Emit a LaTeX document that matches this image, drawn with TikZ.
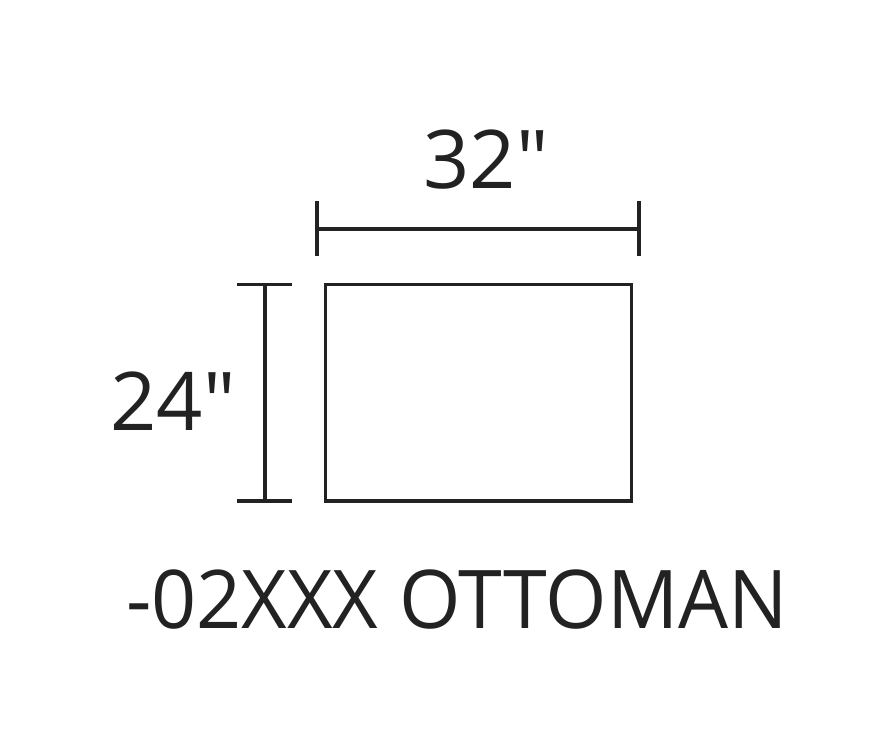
\documentclass[tikz,border=0pt]{standalone}
\usepackage{fontspec}
\setmainfont{Open Sans}[Ligatures=TeXOff]
\definecolor{ink}{RGB}{34,34,34}
\begin{document}
\begin{tikzpicture}[x=1pt,y=-1pt,
  dimline/.style={draw=ink,line width=3.3pt},
  outline/.style={draw=ink,line width=3.8pt},
  label/.style={text=ink,inner sep=0pt,anchor=base,font=\fontsize{81}{90}\selectfont}]
\useasboundingbox (0,0) rectangle (896,752);
% rectangle
\draw[outline] (325.5,284.5) rectangle (631.5,501);
% top dimension
\coordinate (tl) at (317,229);
\coordinate (tr) at (639,229);
\draw[dimline] (tl) -- (tr);
\draw[dimline] (317,201) -- (317,256);
\draw[dimline] (639,201) -- (639,256);
% left dimension
\coordinate (lt) at (265,284.5);
\coordinate (lb) at (265,501);
\draw[dimline] (lt) -- (lb);
\draw[dimline] (237,284.5) -- (292,284.5);
\draw[dimline] (237,501) -- (292,501);
% labels
\node[label] (w) at (486,188) {32"};
\node[label] (h) at (173,430) {24"};
\node[label,xscale=0.975] (t) at (457,628) {-02XXX OTTOMAN};
\end{tikzpicture}
\end{document}
